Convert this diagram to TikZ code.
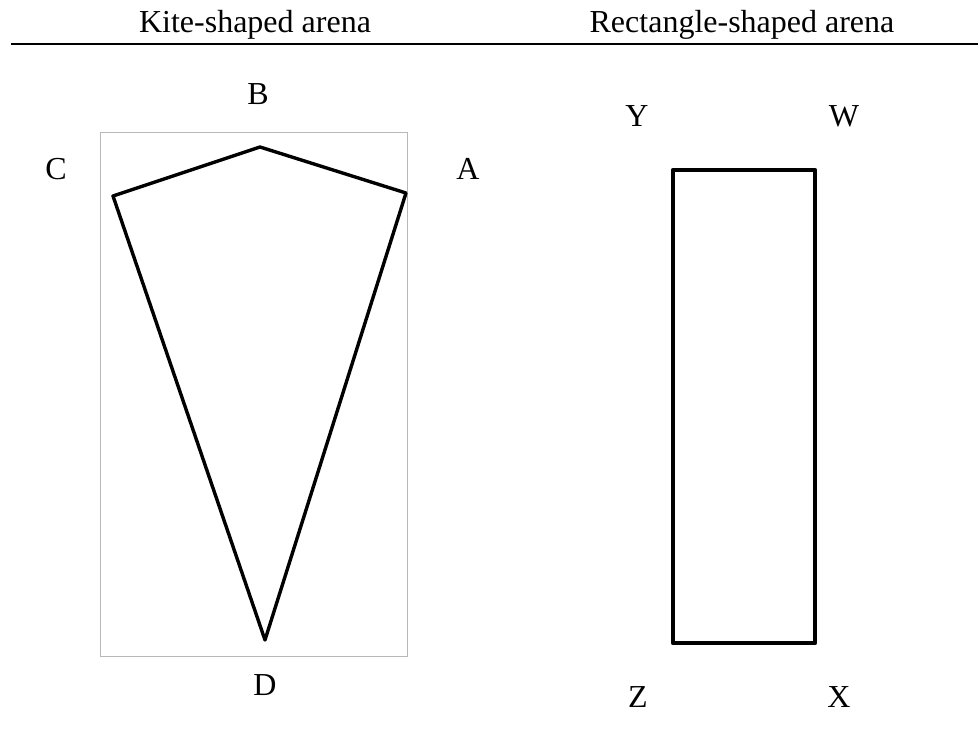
\documentclass[tikz,border=0pt]{standalone}
\usepackage{fontspec}
\setmainfont{Liberation Serif}
\usepackage{tikz}
\usetikzlibrary{positioning}

\begin{document}
\begin{tikzpicture}[
    x=1pt,y=-1pt,
    titre/.style = {anchor=base,inner sep=0pt,font=\fontsize{32}{36}\selectfont},
    lab/.style   = {anchor=base,inner sep=0pt,font=\fontsize{32}{36}\selectfont},
    arena/.style = {draw=black,line width=3.4pt,line join=round},
    cadre/.style = {draw=black!28,line width=0.8pt},
  ]
  \useasboundingbox (0,0) rectangle (978,730);

  % En-tete du tableau
  \node[titre] (tkite) at (255,33) {Kite-shaped arena};
  \node[titre] (trect) at (742,33) {Rectangle-shaped arena};
  \draw[line width=2.5pt] (11,44) -- (978,44);

  % Arene en cerf-volant
  \draw[cadre] (100,132) rectangle (407,656);
  \coordinate (pA) at (406,193);
  \coordinate (pB) at (260,147);
  \coordinate (pC) at (113,196);
  \coordinate (pD) at (265,640);
  \draw[arena] (pA) -- (pB) -- (pC) -- (pD) -- cycle;

  \node[lab] (labB) at (258,105) {B};
  \node[lab] (labC) at (56,180)  {C};
  \node[lab] (labA) at (468,180) {A};
  \node[lab] (labD) at (265,695) {D};

  % Arene rectangulaire
  \draw[arena,line width=4.4pt] (673,170) rectangle (815,643);

  \node[lab] (labY) at (637,127) {Y};
  \node[lab] (labW) at (844,127) {W};
  \node[lab] (labZ) at (638,707) {Z};
  \node[lab] (labX) at (839,707) {X};

\end{tikzpicture}
\end{document}
